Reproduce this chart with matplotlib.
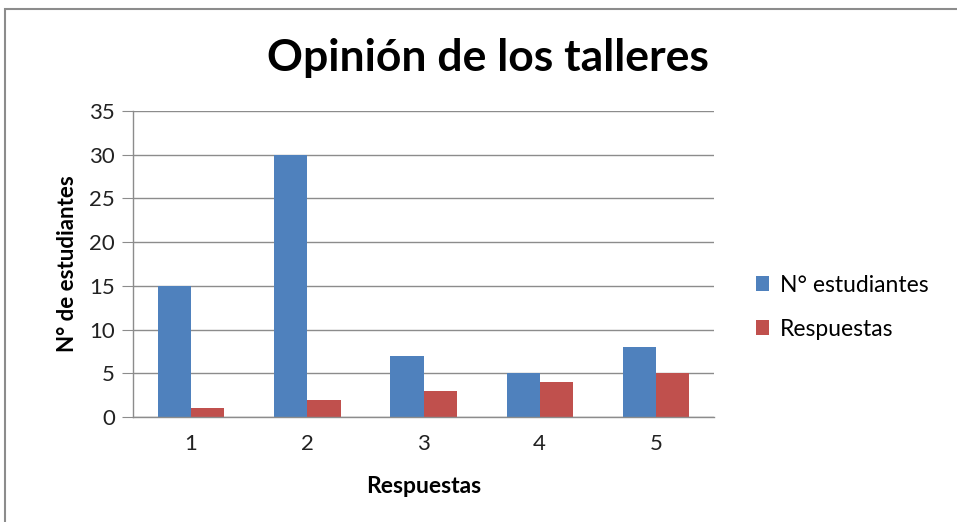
import matplotlib
matplotlib.use("Agg")
import matplotlib.pyplot as plt
import numpy as np
from matplotlib.patches import Rectangle

categories = ["1", "2", "3", "4", "5"]
estudiantes = [15, 30, 7, 5, 8]
respuestas = [1, 2, 3, 4, 5]
series_names = ["N° estudiantes", "Respuestas"]
yticks = [0, 5, 10, 15, 20, 25, 30, 35]

plt.rcParams['font.family'] = ['Lato', 'DejaVu Sans']

W, H = 957, 522
fig = plt.figure(figsize=(W / 100, H / 100), dpi=100)
ax = fig.add_axes([133 / W, 1 - 417 / H, (714 - 133) / W, (417 - 111) / H])

x = np.arange(1, len(categories) + 1)
w = 1 / 3.5
blue = "#4F81BD"
red = "#C0504D"
ax.bar(x - w / 2, estudiantes, w, color=blue, label=series_names[0])
ax.bar(x + w / 2, respuestas, w, color=red, label=series_names[1])

ax.set_xlim(0.5, 5.5)
ax.set_ylim(0, 35)
ax.set_yticks(yticks)
ax.set_xticks(x)
ax.set_xticklabels(categories)
grid_c = "#8C8C8C"
ax.yaxis.grid(True, color=grid_c, linewidth=1)
ax.set_axisbelow(True)
for s in ["top", "right"]:
    ax.spines[s].set_visible(False)
for s in ["left", "bottom"]:
    ax.spines[s].set_color(grid_c)
    ax.spines[s].set_linewidth(1)
ax.tick_params(axis="y", length=8, color=grid_c, labelsize=16, pad=5, labelcolor="#222222")
ax.tick_params(axis="x", length=0, labelsize=16, pad=12, labelcolor="#222222")

ax.set_xlabel("Respuestas", fontsize=16.5, fontweight="bold", labelpad=16)
ax.set_ylabel("N° de estudiantes", fontsize=16, fontweight="bold", labelpad=8)

fig.text(488 / W, 1 - 58 / H, "Opinión de los talleres", fontsize=32, fontweight="bold",
         ha="center", va="center")

leg = fig.legend(loc="upper left", bbox_to_anchor=(735 / W, 1 - 254 / H), frameon=False,
                 fontsize=16.5, handlelength=0.6, handleheight=0.6, handletextpad=0.45,
                 labelspacing=1.0)

# outer chart border
fig.add_artist(Rectangle((5 / W, -0.1), 2, 1.1 - 9 / H, transform=fig.transFigure,
                         fill=False, edgecolor="#8C8C8C", linewidth=1.5))

fig.savefig("out.png", dpi=100)
